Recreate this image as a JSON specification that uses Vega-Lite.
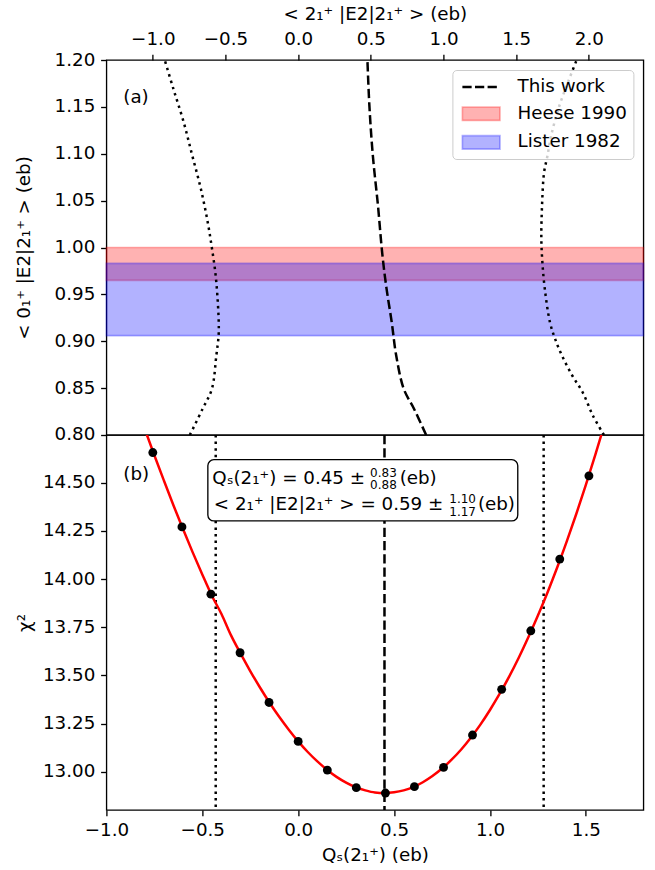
{
  "$schema": "https://vega.github.io/schema/vega-lite/v6.json",
  "background": "white",
  "padding": {"left": 13.4, "top": 3, "right": 12, "bottom": 4},
  "spacing": 0,
  "bounds": "flush",
  "config": {
    "font": "DejaVu Sans",
    "view": {"stroke": "black", "strokeWidth": 1.33},
    "axis": {
      "labelFont": "DejaVu Sans", "labelFontSize": 18.3, "labelColor": "black",
      "titleFont": "DejaVu Sans", "titleFontSize": 18.3, "titleColor": "black", "titleFontWeight": "normal",
      "tickColor": "black", "tickWidth": 1.33, "tickSize": 5.8, "labelPadding": 5.8,
      "domain": false, "grid": false, "labelFlush": false, "labelOverlap": false
    },
    "legend": {"symbolOpacity": 1},
    "text": {"font": "DejaVu Sans", "color": "black"}
  },
  "datasets": {
    "bands": [
      {"source": "Heese 1990", "lo": 0.965, "hi": 1.0},
      {"source": "Lister 1982", "lo": 0.906, "hi": 0.983}
    ],
    "contours": [
      {"curve": "This work", "qs": 0.361, "me": 1.2},
      {"curve": "This work", "qs": 0.3712, "me": 1.1516},
      {"curve": "This work", "qs": 0.3892, "me": 1.0982},
      {"curve": "This work", "qs": 0.416, "me": 1.0448},
      {"curve": "This work", "qs": 0.4394, "me": 0.9915},
      {"curve": "This work", "qs": 0.4609, "me": 0.9559},
      {"curve": "This work", "qs": 0.4878, "me": 0.9203},
      {"curve": "This work", "qs": 0.5111, "me": 0.8847},
      {"curve": "This work", "qs": 0.5506, "me": 0.8491},
      {"curve": "This work", "qs": 0.6044, "me": 0.8278},
      {"curve": "This work", "qs": 0.6671, "me": 0.8},
      {"curve": "lower", "qs": -0.6958, "me": 1.2},
      {"curve": "lower", "qs": -0.651, "me": 1.1694},
      {"curve": "lower", "qs": -0.5972, "me": 1.1338},
      {"curve": "lower", "qs": -0.5524, "me": 1.0982},
      {"curve": "lower", "qs": -0.5075, "me": 1.0626},
      {"curve": "lower", "qs": -0.4717, "me": 1.027},
      {"curve": "lower", "qs": -0.4501, "me": 0.9997},
      {"curve": "lower", "qs": -0.4322, "me": 0.9737},
      {"curve": "lower", "qs": -0.4214, "me": 0.9488},
      {"curve": "lower", "qs": -0.4143, "me": 0.9203},
      {"curve": "lower", "qs": -0.4150, "me": 0.906},
      {"curve": "lower", "qs": -0.4268, "me": 0.8847},
      {"curve": "lower", "qs": -0.4501, "me": 0.8491},
      {"curve": "lower", "qs": -0.4986, "me": 0.8278},
      {"curve": "lower", "qs": -0.5649, "me": 0.8},
      {"curve": "upper", "qs": 1.452, "me": 1.2},
      {"curve": "upper", "qs": 1.41, "me": 1.178},
      {"curve": "upper", "qs": 1.36, "me": 1.15},
      {"curve": "upper", "qs": 1.32, "me": 1.12},
      {"curve": "upper", "qs": 1.2984, "me": 1.0964},
      {"curve": "upper", "qs": 1.2823, "me": 1.0804},
      {"curve": "upper", "qs": 1.2715, "me": 1.0448},
      {"curve": "upper", "qs": 1.2679, "me": 1.0093},
      {"curve": "upper", "qs": 1.2733, "me": 0.9843},
      {"curve": "upper", "qs": 1.2859, "me": 0.9559},
      {"curve": "upper", "qs": 1.3128, "me": 0.9203},
      {"curve": "upper", "qs": 1.3397, "me": 0.9025},
      {"curve": "upper", "qs": 1.3755, "me": 0.8847},
      {"curve": "upper", "qs": 1.4293, "me": 0.8633},
      {"curve": "upper", "qs": 1.4831, "me": 0.8456},
      {"curve": "upper", "qs": 1.537, "me": 0.8206},
      {"curve": "upper", "qs": 1.5944, "me": 0.8}
    ],
    "scan": [
      {"e2": -1.0, "qs": -0.758, "chi2": 14.657},
      {"e2": -0.8, "qs": -0.606, "chi2": 14.271},
      {"e2": -0.6, "qs": -0.455, "chi2": 13.922},
      {"e2": -0.4, "qs": -0.303, "chi2": 13.618},
      {"e2": -0.2, "qs": -0.152, "chi2": 13.360},
      {"e2": 0.0, "qs": 0.0, "chi2": 13.158},
      {"e2": 0.2, "qs": 0.152, "chi2": 13.009},
      {"e2": 0.4, "qs": 0.303, "chi2": 12.918},
      {"e2": 0.6, "qs": 0.455, "chi2": 12.890},
      {"e2": 0.8, "qs": 0.606, "chi2": 12.923},
      {"e2": 1.0, "qs": 0.758, "chi2": 13.023},
      {"e2": 1.2, "qs": 0.909, "chi2": 13.191},
      {"e2": 1.4, "qs": 1.061, "chi2": 13.428},
      {"e2": 1.6, "qs": 1.213, "chi2": 13.732},
      {"e2": 1.8, "qs": 1.364, "chi2": 14.104},
      {"e2": 2.0, "qs": 1.516, "chi2": 14.536}
    ],
    "fit": [
      {"qs": -0.80, "chi2": 14.779}, {"qs": -0.75, "chi2": 14.643}, {"qs": -0.70, "chi2": 14.511},
      {"qs": -0.65, "chi2": 14.382}, {"qs": -0.60, "chi2": 14.259}, {"qs": -0.55, "chi2": 14.139},
      {"qs": -0.50, "chi2": 14.024}, {"qs": -0.45, "chi2": 13.914}, {"qs": -0.40, "chi2": 13.819},
      {"qs": -0.35, "chi2": 13.708}, {"qs": -0.30, "chi2": 13.613}, {"qs": -0.25, "chi2": 13.523},
      {"qs": -0.20, "chi2": 13.439}, {"qs": -0.15, "chi2": 13.360}, {"qs": -0.10, "chi2": 13.287},
      {"qs": -0.05, "chi2": 13.220}, {"qs": 0.00, "chi2": 13.158}, {"qs": 0.05, "chi2": 13.103},
      {"qs": 0.10, "chi2": 13.054}, {"qs": 0.15, "chi2": 13.011}, {"qs": 0.20, "chi2": 12.974},
      {"qs": 0.25, "chi2": 12.944}, {"qs": 0.30, "chi2": 12.920}, {"qs": 0.35, "chi2": 12.904},
      {"qs": 0.40, "chi2": 12.893}, {"qs": 0.45, "chi2": 12.890}, {"qs": 0.50, "chi2": 12.894},
      {"qs": 0.55, "chi2": 12.904}, {"qs": 0.60, "chi2": 12.921}, {"qs": 0.65, "chi2": 12.946},
      {"qs": 0.70, "chi2": 12.978}, {"qs": 0.75, "chi2": 13.017}, {"qs": 0.80, "chi2": 13.063},
      {"qs": 0.85, "chi2": 13.116}, {"qs": 0.90, "chi2": 13.177}, {"qs": 0.95, "chi2": 13.245},
      {"qs": 1.00, "chi2": 13.321}, {"qs": 1.05, "chi2": 13.404}, {"qs": 1.10, "chi2": 13.494},
      {"qs": 1.15, "chi2": 13.592}, {"qs": 1.20, "chi2": 13.698}, {"qs": 1.25, "chi2": 13.811},
      {"qs": 1.30, "chi2": 13.931}, {"qs": 1.35, "chi2": 14.059}, {"qs": 1.40, "chi2": 14.195},
      {"qs": 1.45, "chi2": 14.338}, {"qs": 1.50, "chi2": 14.489}, {"qs": 1.55, "chi2": 14.647},
      {"qs": 1.60, "chi2": 14.813}
    ],
    "limits": [
      {"bound": "lower", "qs": -0.43},
      {"bound": "best", "qs": 0.45},
      {"bound": "upper", "qs": 1.28}
    ],
    "notes": [
      {"part": "value", "qs": -0.448, "chi2": 14.519, "text": "Qₛ(2₁⁺) = 0.45 ±"},
      {"part": "value", "qs": 0.529, "chi2": 14.519, "text": "(eb)"},
      {"part": "value", "qs": -0.440, "chi2": 14.384, "text": "< 2₁⁺ |E2|2₁⁺ > = 0.59 ±"},
      {"part": "value", "qs": 0.937, "chi2": 14.384, "text": "(eb)"},
      {"part": "error", "qs": 0.375, "chi2": 14.553, "text": "0.83"},
      {"part": "error", "qs": 0.375, "chi2": 14.486, "text": "0.88"},
      {"part": "error", "qs": 0.788, "chi2": 14.418, "text": "1.10"},
      {"part": "error", "qs": 0.788, "chi2": 14.351, "text": "1.17"}
    ]
  },
  "vconcat": [
    {
      "width": 537,
      "height": 375,
      "resolve": {"scale": {"x": "independent"}},
      "layer": [
        {
          "data": {"name": "bands"},
          "mark": {"type": "rect", "strokeWidth": 1.67},
          "encoding": {
            "x": {"datum": -1, "type": "quantitative", "scale": {"domain": [-1, 1.8], "nice": false, "zero": false}, "axis": null},
            "x2": {"datum": 1.8},
            "y": {"field": "lo", "type": "quantitative", "scale": {"domain": [0.8, 1.2], "nice": false, "zero": false},
                  "title": "< 0₁⁺ |E2|2₁⁺ > (eb)",
                  "axis": {"values": [0.8, 0.85, 0.9, 0.95, 1.0, 1.05, 1.1, 1.15, 1.2], "format": ".2f", "titlePadding": 20.1}},
            "y2": {"field": "hi"},
            "fill": {"field": "source", "type": "nominal",
              "scale": {"domain": ["This work", "Heese 1990", "Lister 1982"], "range": ["black", "rgba(255,0,0,0.3)", "rgba(0,0,255,0.3)"]},
              "legend": {"title": null, "orient": "top-right", "offset": 10, "padding": 6, "rowPadding": 6.7,
                "symbolSize": 400, "symbolStrokeWidth": 1.67, "symbolOffset": 11.8, "labelOffset": 25.3, "symbolOpacity": 1,
                "labelFont": "DejaVu Sans", "labelFontSize": 18.3, "labelColor": "black",
                "fillColor": "rgba(255,255,255,0.8)", "strokeColor": "#cccccc", "cornerRadius": 4}},
            "stroke": {"field": "source", "type": "nominal",
              "scale": {"domain": ["This work", "Heese 1990", "Lister 1982"], "range": ["transparent", "rgba(255,0,0,0.3)", "rgba(0,0,255,0.3)"]},
              "legend": {"title": null, "orient": "top-right", "offset": 10, "padding": 6, "rowPadding": 6.7,
                "symbolSize": 400, "symbolStrokeWidth": 1.67, "symbolOffset": 11.8, "labelOffset": 25.3, "symbolOpacity": 1,
                "labelFont": "DejaVu Sans", "labelFontSize": 18.3, "labelColor": "black",
                "fillColor": "rgba(255,255,255,0.8)", "strokeColor": "#cccccc", "cornerRadius": 4}}
          }
        },
        {
          "data": {"name": "bands"},
          "mark": {"type": "point", "filled": true, "opacity": 0},
          "encoding": {
            "x": {"datum": 0.2, "type": "quantitative", "scale": {"domain": [-1, 1.8], "nice": false, "zero": false}, "axis": null},
            "y": {"field": "lo", "type": "quantitative", "scale": {"domain": [0.8, 1.2], "nice": false, "zero": false}, "title": "< 0₁⁺ |E2|2₁⁺ > (eb)"},
            "fill": {"field": "source", "type": "nominal"},
            "stroke": {"field": "source", "type": "nominal"},
            "shape": {"field": "source", "type": "nominal",
              "scale": {"domain": ["This work", "Heese 1990", "Lister 1982"],
                        "range": ["M-1.88,-0.125H-0.955V0.125H-1.88ZM-0.62,-0.125H0.305V0.125H-0.62ZM0.64,-0.125H1.565V0.125H0.64Z",
                                  "M-1.88,-0.67H1.88V0.67H-1.88Z", "M-1.88,-0.67H1.88V0.67H-1.88Z"]},
              "legend": {"title": null, "orient": "top-right", "offset": 10, "padding": 6, "rowPadding": 6.7,
                "symbolSize": 400, "symbolStrokeWidth": 1.67, "symbolOffset": 11.8, "labelOffset": 25.3, "symbolOpacity": 1,
                "labelFont": "DejaVu Sans", "labelFontSize": 18.3, "labelColor": "black",
                "fillColor": "rgba(255,255,255,0.8)", "strokeColor": "#cccccc", "cornerRadius": 4}}
          }
        },
        {
          "data": {"name": "contours"},
          "mark": {"type": "line", "color": "black", "strokeWidth": 2.5, "clip": true, "interpolate": "catmull-rom"},
          "encoding": {
            "x": {"field": "qs", "type": "quantitative", "scale": {"domain": [-1, 1.8], "nice": false, "zero": false}, "axis": null},
            "y": {"field": "me", "type": "quantitative", "scale": {"domain": [0.8, 1.2], "nice": false, "zero": false}, "title": "< 0₁⁺ |E2|2₁⁺ > (eb)"},
            "order": {"field": "me", "type": "quantitative"},
            "strokeDash": {"field": "curve", "type": "nominal",
              "scale": {"domain": ["This work", "lower", "upper"], "range": [[9.25, 4], [2.5, 4.1], [2.5, 4.1]]},
              "legend": null}
          }
        },
        {
          "data": {"name": "scan"},
          "mark": {"type": "rule", "strokeOpacity": 0},
          "encoding": {
            "x": {"field": "e2", "type": "quantitative",
                  "scale": {"domain": [-1.3194, 2.375], "nice": false, "zero": false},
                  "axis": {"orient": "top", "title": "< 2₁⁺ |E2|2₁⁺ > (eb)", "values": [-1, -0.5, 0, 0.5, 1, 1.5, 2], "format": ".1f", "titlePadding": 6}}
          }
        },
        {
          "data": {"values": [{}]},
          "mark": {"type": "text", "align": "left", "baseline": "middle", "fontSize": 18.3},
          "encoding": {
            "x": {"datum": -0.912, "type": "quantitative", "scale": {"domain": [-1, 1.8], "nice": false, "zero": false}, "axis": null},
            "y": {"datum": 1.1594, "type": "quantitative"},
            "text": {"value": "(a)"}
          }
        }
      ]
    },
    {
      "width": 537,
      "height": 375,
      "layer": [
        {
          "data": {"name": "limits"},
          "mark": {"type": "rule", "color": "black", "strokeWidth": 2.5},
          "encoding": {
            "x": {"field": "qs", "type": "quantitative", "scale": {"domain": [-1, 1.8], "nice": false, "zero": false},
                  "axis": {"values": [-1, -0.5, 0, 0.5, 1, 1.5], "format": ".1f", "title": "Qₛ(2₁⁺) (eb)", "titlePadding": 8}},
            "strokeDash": {"field": "bound", "type": "nominal",
              "scale": {"domain": ["lower", "best", "upper"], "range": [[2.5, 4.1], [9.25, 4], [2.5, 4.1]]},
              "legend": null}
          }
        },
        {
          "data": {"name": "fit"},
          "mark": {"type": "line", "color": "red", "strokeWidth": 2.5, "clip": true, "interpolate": "monotone"},
          "encoding": {
            "x": {"field": "qs", "type": "quantitative", "scale": {"domain": [-1, 1.8], "nice": false, "zero": false}, "title": "Qₛ(2₁⁺) (eb)"},
            "y": {"field": "chi2", "type": "quantitative", "scale": {"domain": [12.802, 14.748], "nice": false, "zero": false},
                  "axis": {"values": [13, 13.25, 13.5, 13.75, 14, 14.25, 14.5], "format": ".2f", "title": "χ²", "titlePadding": 8.4}}
          }
        },
        {
          "data": {"name": "scan"},
          "mark": {"type": "circle", "size": 79, "color": "black", "opacity": 1},
          "encoding": {
            "x": {"field": "qs", "type": "quantitative", "title": "Qₛ(2₁⁺) (eb)"},
            "y": {"field": "chi2", "type": "quantitative", "title": "χ²"}
          }
        },
        {
          "data": {"values": [{}]},
          "mark": {"type": "rect", "fill": "white", "stroke": "black", "strokeWidth": 1.33, "cornerRadius": 6},
          "encoding": {
            "x": {"datum": -0.471, "type": "quantitative"},
            "x2": {"datum": 1.145},
            "y": {"datum": 14.302, "type": "quantitative"},
            "y2": {"datum": 14.62}
          }
        },
        {
          "data": {"name": "notes"},
          "transform": [{"filter": "datum.part === 'value'"}],
          "mark": {"type": "text", "align": "left", "baseline": "middle", "fontSize": 18.3},
          "encoding": {
            "x": {"field": "qs", "type": "quantitative", "title": "Qₛ(2₁⁺) (eb)"},
            "y": {"field": "chi2", "type": "quantitative", "title": "χ²"},
            "text": {"field": "text"}
          }
        },
        {
          "data": {"name": "notes"},
          "transform": [{"filter": "datum.part === 'error'"}],
          "mark": {"type": "text", "align": "left", "baseline": "middle", "fontSize": 12},
          "encoding": {
            "x": {"field": "qs", "type": "quantitative", "title": "Qₛ(2₁⁺) (eb)"},
            "y": {"field": "chi2", "type": "quantitative", "title": "χ²"},
            "text": {"field": "text"}
          }
        },
        {
          "data": {"values": [{}]},
          "mark": {"type": "text", "align": "left", "baseline": "middle", "fontSize": 18.3},
          "encoding": {
            "x": {"datum": -0.912, "type": "quantitative"},
            "y": {"datum": 14.543, "type": "quantitative"},
            "text": {"value": "(b)"}
          }
        }
      ]
    }
  ]
}
